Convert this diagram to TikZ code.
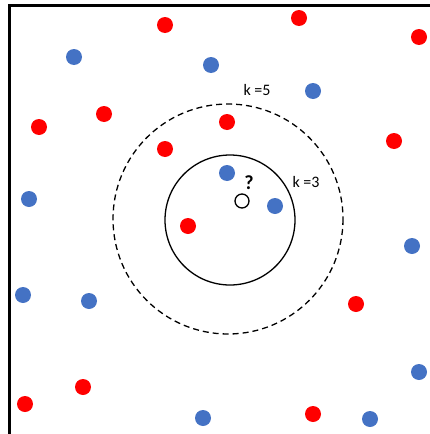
\documentclass[tikz,border=0pt]{standalone}
\usepackage{fontspec}
\setmainfont{Carlito}
\definecolor{dotblue}{RGB}{68,114,196}
\tikzset{
  reddot/.style={fill=red, draw=none},
  bluedot/.style={fill=dotblue, draw=none},
  klabel/.style={font=\fontsize{16}{18}\selectfont}
}
\begin{document}
\begin{tikzpicture}[x=1pt, y=-1pt]

	% Rahmen der Abbildung
	\useasboundingbox (0,0) rectangle (430,434);
	\draw[line width=3pt] (9,434) -- (9,5) -- (430,5);

	% Rote Punkte
	\foreach \px/\py in {165/25, 299/18, 419/37, 39/127, 104/114, 227/122,
		165/149, 394/141, 188/226, 356/304, 83/387, 25/404, 313/414}
		\fill[reddot] (\px,\py) circle (8);

	% Blaue Punkte
	\foreach \px/\py in {74/57, 211/65, 313/91, 29/199, 227/173, 275/206,
		412/246, 23/295, 89/301, 419/372, 203/418, 370/419}
		\fill[bluedot] (\px,\py) circle (8);

	% Nachbarschaften k=3 und k=5
	\draw[line width=1.3pt] (230,220) circle (65);
	\draw[line width=1.3pt, dash pattern=on 6pt off 4pt] (228,219) circle (115);

	% Unbekannter Punkt
	\draw[line width=1.3pt, fill=white] (242,201) circle (7);
	\node[font=\fontsize{20}{22}\selectfont\bfseries] (query) at (249,183) {?};

	% Beschriftungen
	\node[klabel] (kfive) at (257,90) {k =5};
	\node[klabel] (kthree) at (306,182) {k =3};

\end{tikzpicture}
\end{document}
